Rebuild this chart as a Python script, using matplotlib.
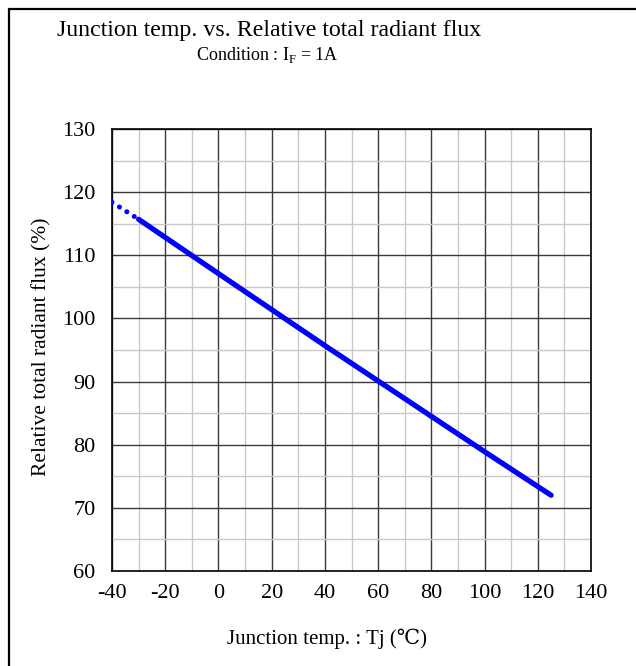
import matplotlib
matplotlib.use('Agg')
import matplotlib.pyplot as plt
from matplotlib.patches import Rectangle

plt.rcParams['font.family'] = ['Liberation Serif', 'DejaVu Serif', 'DejaVu Sans']
plt.rcParams['axes.unicode_minus'] = False

# extrapolated part (dotted)
temp_ext = [-40, -30]
flux_ext = [118.4, 115.7]

# measured part (solid)
temp = [-30, 0, 20, 40, 60, 80, 100, 125]
flux = [115.7, 107.1, 101.4, 95.7, 90.1, 84.5, 78.9, 72.0]

x_ticks = [-40, -20, 0, 20, 40, 60, 80, 100, 120, 140]
y_ticks = [60, 70, 80, 90, 100, 110, 120, 130]

W, H = 636, 666
fig = plt.figure(figsize=(W / 100, H / 100), dpi=100)
ax = fig.add_axes([112 / W, 1 - 571 / H, (591 - 112) / W, (571 - 129) / H])

ax.plot(temp_ext, flux_ext, color='#0000ff', linewidth=3.6,
        linestyle=(0, (0.01, 1.75)), dash_capstyle='round', zorder=3)
ax.plot(temp, flux, color='#0000ff', linewidth=3.8,
        solid_capstyle='round', zorder=3)

ax.set_xlim(-40, 140)
ax.set_ylim(60, 130)
ax.set_xticks(x_ticks)
ax.set_yticks(y_ticks)
ax.set_xticks(range(-30, 140, 20), minor=True)
ax.set_yticks(range(65, 130, 10), minor=True)
ax.grid(which='minor', color='#c8c8c8', linewidth=1.0)
ax.grid(which='major', color='#3a3a3a', linewidth=1.0)
ax.set_axisbelow(True)
ax.tick_params(which='both', length=0, labelsize=16)
ax.tick_params(axis='x', pad=9)
ax.tick_params(axis='y', pad=12)
for s in ax.spines.values():
    s.set_linewidth(1.2)
    s.set_color('black')

fig.text(269 / W, 1 - 36 / H, 'Junction temp. vs. Relative total radiant flux',
         ha='center', va='baseline', fontsize=17.2)
fig.text(267 / W, 1 - 60 / H, r'Condition : I$_\mathregular{F}$ = 1A',
         ha='center', va='baseline', fontsize=13)
fig.text(327 / W, 1 - 639 / H, 'Junction temp. : Tj (℃)',
         ha='center', va='center', fontsize=15)
fig.text(42 / W, 1 - 347 / H, 'Relative total radiant flux (%)',
         ha='center', va='center', rotation=90, fontsize=15.5)

# outer frame
fig.patches.append(Rectangle((9 / W, -0.1), 1.2, 1 - 9 / H + 0.1,
                             transform=fig.transFigure, fill=False,
                             edgecolor='black', linewidth=1.6))

fig.savefig('out.png', dpi=100)
